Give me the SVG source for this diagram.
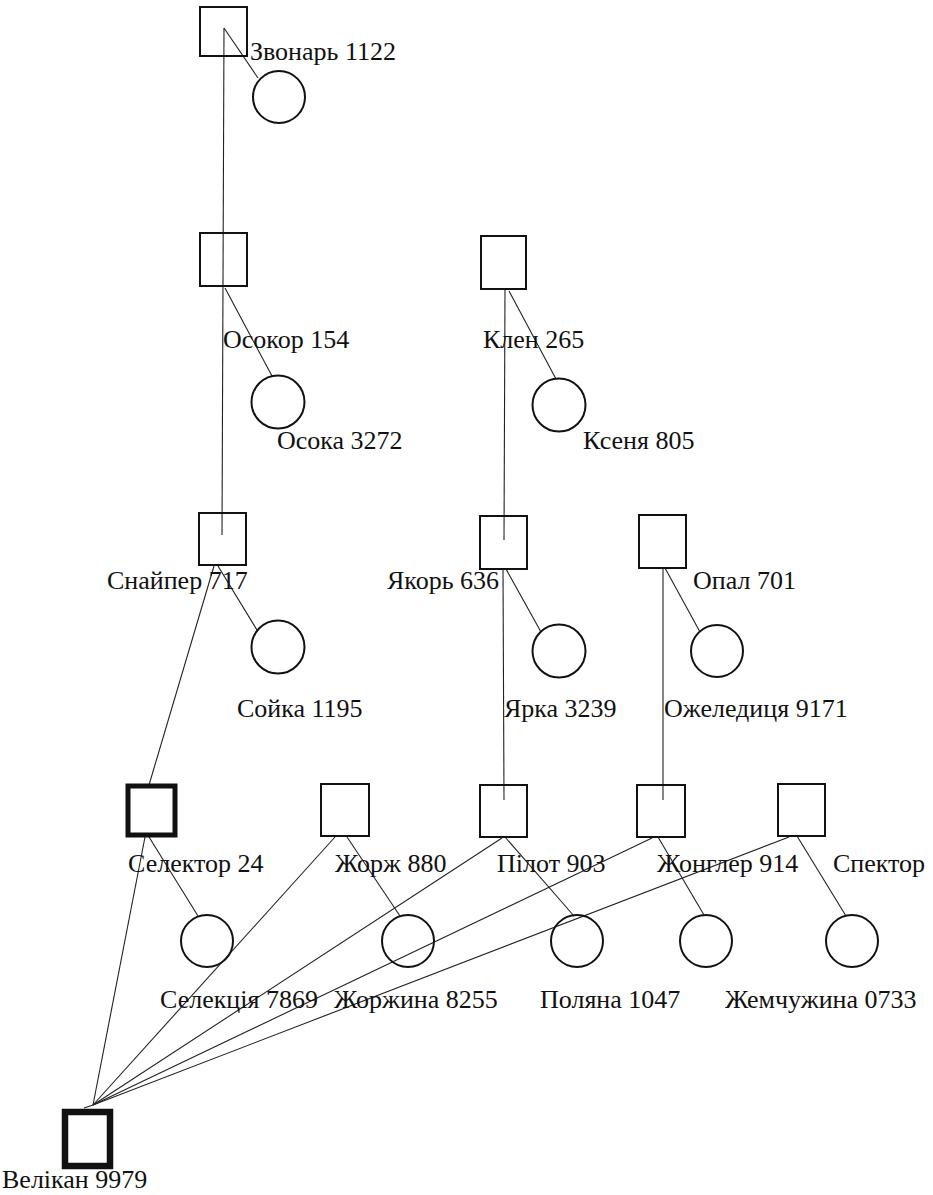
<svg xmlns="http://www.w3.org/2000/svg" width="933" height="1195" viewBox="0 0 933 1195">
<style>
.m{fill:none;stroke:#111;stroke-width:2}
.mt{fill:none;stroke:#111;stroke-width:5}
.mv{fill:none;stroke:#111;stroke-width:6.5}
.f{fill:none;stroke:#111;stroke-width:2}
.c line{stroke:#222;stroke-width:1.1}
text{font-family:"Liberation Serif","Times New Roman",serif;font-size:26px;fill:#111}
</style>
<rect width="933" height="1195" fill="#fff"/>
<g id="connectors" class="c">
<line x1="224" y1="28" x2="258" y2="78"/>
<line x1="224" y1="28" x2="222" y2="535"/>
<line x1="225" y1="288" x2="272" y2="376"/>
<line x1="505" y1="290" x2="504" y2="540"/>
<line x1="509" y1="291" x2="556" y2="379"/>
<line x1="218" y1="566" x2="257" y2="630"/>
<line x1="214" y1="566" x2="149" y2="785"/>
<line x1="503" y1="569" x2="504" y2="800"/>
<line x1="506" y1="569" x2="541" y2="632"/>
<line x1="663" y1="568" x2="663" y2="800"/>
<line x1="665" y1="568" x2="700" y2="632"/>
<line x1="149" y1="837" x2="198" y2="916"/>
<line x1="347" y1="837" x2="400" y2="916"/>
<line x1="505" y1="837" x2="574" y2="916"/>
<line x1="658" y1="837" x2="704" y2="915"/>
<line x1="797" y1="836" x2="846" y2="916"/>
<line x1="93" y1="1105" x2="145" y2="837"/>
<line x1="93" y1="1105" x2="335" y2="837"/>
<line x1="93" y1="1105" x2="502" y2="838"/>
<line x1="93" y1="1105" x2="652" y2="838"/>
<line x1="93" y1="1105" x2="789" y2="837"/>
<line x1="93" y1="1105" x2="84" y2="1108"/>
</g>
<g id="n-zvonar"><rect class="m" x="200" y="7" width="47" height="49"/><text x="250" y="60">Звонарь 1122</text></g>
<g id="n-zvonar-f"><circle class="f" cx="279" cy="97" r="26"/></g>
<g id="n-osokor"><rect class="m" x="200" y="233" width="47" height="53"/><text x="223" y="348">Осокор 154</text></g>
<g id="n-osoka"><circle class="f" cx="278" cy="402" r="26.5"/><text x="277" y="449">Осока 3272</text></g>
<g id="n-klen"><rect class="m" x="481" y="236" width="45" height="53"/><text x="483" y="348">Клен 265</text></g>
<g id="n-ksenia"><circle class="f" cx="559" cy="405" r="26.5"/><text x="583" y="449">Ксеня 805</text></g>
<g id="n-snaiper"><rect class="m" x="199" y="513" width="47" height="52"/><text x="107" y="589">Снайпер 717</text></g>
<g id="n-soika"><circle class="f" cx="278" cy="647" r="26.5"/><text x="237" y="717">Сойка 1195</text></g>
<g id="n-yakor"><rect class="m" x="480" y="516" width="47" height="53"/><text x="387" y="589">Якорь 636</text></g>
<g id="n-yarka"><circle class="f" cx="559" cy="651" r="26.5"/><text x="504" y="717">Ярка 3239</text></g>
<g id="n-opal"><rect class="m" x="639" y="515" width="47" height="53"/><text x="693" y="589">Опал 701</text></g>
<g id="n-ozheleditsia"><circle class="f" cx="717" cy="651" r="26"/><text x="664" y="717">Ожеледиця 9171</text></g>
<g id="n-selektor"><rect class="mt" x="128" y="786" width="47" height="49"/><text x="128" y="872">Селектор 24</text></g>
<g id="n-zhorzh"><rect class="m" x="321" y="784" width="48" height="52"/><text x="335" y="872">Жорж 880</text></g>
<g id="n-pilot"><rect class="m" x="480" y="785" width="47" height="52"/><text x="497" y="872">Пілот 903</text></g>
<g id="n-zhongler"><rect class="m" x="637" y="785" width="48" height="52"/><text x="657" y="872">Жонглер 914</text></g>
<g id="n-spektor"><rect class="m" x="778" y="784" width="47" height="52"/><text x="833" y="872">Спектор</text></g>
<g id="n-selektsiia"><circle class="f" cx="207" cy="941" r="26"/><text x="160" y="1008">Селекція 7869</text></g>
<g id="n-zhorzhyna"><circle class="f" cx="408" cy="941" r="26"/><text x="334" y="1008">Жоржина 8255</text></g>
<g id="n-poliana"><circle class="f" cx="577" cy="941" r="26"/><text x="540" y="1008">Поляна 1047</text></g>
<g id="n-zhongler-f"><circle class="f" cx="706" cy="941" r="26"/></g>
<g id="n-zhemchuzhyna"><circle class="f" cx="852" cy="941" r="26"/><text x="725" y="1008">Жемчужина 0733</text></g>
<g id="n-velikan"><rect class="mv" x="65" y="1112" width="45" height="54"/><text x="2" y="1188">Велікан 9979</text></g>
</svg>
